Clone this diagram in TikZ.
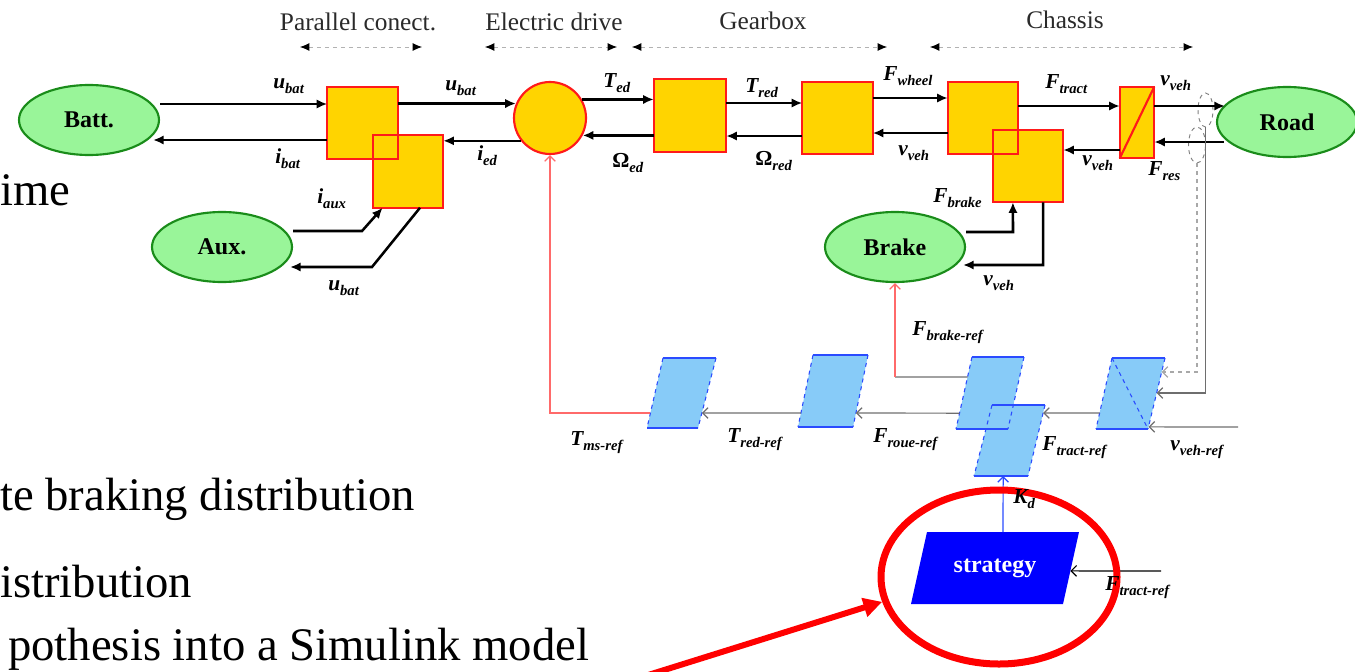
\documentclass[tikz,border=0pt]{standalone}
\usepackage{fontspec}
\setmainfont{Liberation Serif}
\usetikzlibrary{arrows.meta,calc,shapes.geometric}
\definecolor{boxfill}{HTML}{FFD400}
\definecolor{boxline}{HTML}{FF1A1A}
\definecolor{ovfill}{HTML}{99F599}
\definecolor{ovline}{HTML}{1A8C1A}
\definecolor{pfill}{HTML}{87CBF8}
\definecolor{pline}{HTML}{2A4BFF}
\definecolor{sblue}{HTML}{0000FF}
\definecolor{refgray}{HTML}{6E6E6E}
\definecolor{hdrgray}{HTML}{2A2A2A}
\definecolor{pinkred}{HTML}{FF6A6A}
\newcommand{\lab}[2]{{\fontsize{16}{16}\selectfont\bfseries\itshape #1\raisebox{-4pt}{\fontsize{11}{11}\selectfont #2}}}
\newcommand{\olab}[1]{{\fontsize{16}{16}\selectfont\bfseries Ω\raisebox{-4pt}{\fontsize{11}{11}\selectfont\itshape #1}}}
\newcommand{\parafill}[1]{\fill[pfill] (#1tl)--(#1tr)--(#1br)--(#1bl)--cycle;}
\newcommand{\paraline}[1]{\draw[pline,line width=0.8pt] (#1tl)--(#1tr) (#1bl)--(#1br);
  \draw[pline,line width=0.8pt,dashed] (#1tl)--(#1bl) (#1tr)--(#1br);}
\begin{document}
\begin{tikzpicture}[x=0.75pt,y=-0.75pt,
  blk/.style={line width=1.9pt,-{Latex[length=8pt,width=7pt]}},
  reflink/.style={refgray,line width=0.9pt,-{Straight Barb[length=4pt,width=8pt]}},
  yel/.style={rectangle,fill=boxfill,inner sep=0pt,minimum width=52.5pt,minimum height=54pt},
  yelline/.style={draw=boxline,line width=1.6pt},
  oval/.style={ellipse,draw=ovline,fill=ovfill,line width=1.6pt,inner sep=0pt,
    minimum width=105pt,minimum height=52.5pt,font=\fontsize{18}{18}\selectfont\bfseries},
  lbl/.style={anchor=base west,inner sep=0pt},
  hdr/.style={anchor=base,inner sep=0pt,font=\fontsize{19}{19}\selectfont,text=hdrgray},
  spanarrow/.style={draw=gray!60,dashed,line width=0.7pt,
    {Latex[length=7pt,width=6pt,color=black]}-{Latex[length=7pt,width=6pt,color=black]}},
  slide/.style={anchor=base west,inner sep=0pt,font=\fontsize{35}{35}\selectfont}]
\useasboundingbox (0,0) rectangle (1355,671);
\clip (0,0) rectangle (1355,671);

% background slide text
\node[slide] (s1) at (0,205) {ime};
\node[slide] (s2) at (0,510) {te braking distribution};
\node[slide] (s3) at (0,597) {istribution};
\node[slide] (s4) at (8,660) {pothesis into a Simulink model};

% headers
\node[hdr] (hpc) at (358,31) {Parallel conect.};
\node[hdr] (hed) at (554,30) {Electric drive};
\node[hdr] (hgb) at (763,29) {Gearbox};
\node[hdr] (hch) at (1065,28) {Chassis};
\coordinate (a1) at (300,47); \coordinate (a2) at (422,47);
\coordinate (b1) at (485,47); \coordinate (b2) at (617,47);
\coordinate (c1) at (632,47); \coordinate (c2) at (887,47);
\coordinate (d1) at (930,47); \coordinate (d2) at (1193,47);
\draw[spanarrow] (a1) -- (a2);
\draw[spanarrow] (b1) -- (b2);
\draw[spanarrow] (c1) -- (c2);
\draw[spanarrow] (d1) -- (d2);

% ellipses
\node[oval] (batt) at (89,120) {Batt.};
\node[oval] (aux) at (222,247) {Aux.};
\node[oval] (brake) at (895,247) {Brake};
\node[oval] (road) at (1287,122) {Road};

% yellow blocks
\node[yel] (pc1) at (362.5,123) {};
\node[yel] (pc2) at (408,171.5) {};
\node[circle,fill=boxfill,draw=boxline,line width=1.6pt,minimum size=54pt,inner sep=0pt] (motor) at (550,118) {};
\node[yel,minimum width=54pt,minimum height=54.75pt] (gb1) at (690,115.5) {};
\node[yel] (gb2) at (837.5,118) {};
\node[yel] (ch1) at (983,118) {};
\node[yel] (ch2) at (1028,166) {};
\node[yel,minimum width=25.5pt,minimum height=53.25pt] (ft) at (1137,122.5) {};
\foreach \b in {pc1,pc2,gb1,gb2,ch1,ch2,ft}{\draw[yelline] (\b.south west) rectangle (\b.north east);}
\draw[boxline,line width=1.6pt] (ft.south west) -- (ft.north east);

% small dashed ovals
\node[ellipse,draw=gray,dashed,line width=0.7pt,inner sep=0pt,minimum width=11.25pt,minimum height=25.5pt] (ov1) at (1205.5,110) {};
\node[ellipse,draw=gray,dashed,line width=0.7pt,inner sep=0pt,minimum width=12.75pt,minimum height=27pt] (ov2) at (1197,145) {};

% thick black connectors
\draw[blk] (batt.east |- 0,104) -- (pc1.west |- 0,104);
\draw[blk] (pc1.west |- 0,140) -- ($(batt.east |- 0,140)+(-7,0)$);
\draw[blk] (aux.east |- 0,231) -- (362,231) -- ($(pc2.south west)!0.14!(pc2.south east)$);
\draw[blk] ($(pc2.south west)!0.67!(pc2.south east)$) -- (372,267) -- ($(aux.east |- 0,267)+(-3,0)$);
\draw[blk] (pc1.east |- motor.157) -- (motor.157);
\draw[blk] (motor.218) -- (pc2.east |- motor.218);
\draw[blk] (motor.30) -- (gb1.west |- motor.30);
\draw[blk] (gb1.west |- motor.-28) -- (motor.-28);
\draw[blk] (gb1.east |- 0,103) -- (gb2.west |- 0,103);
\draw[blk] (gb2.west |- 0,136) -- (gb1.east |- 0,136);
\draw[blk] (gb2.east |- 0,98) -- (ch1.west |- 0,98);
\draw[blk] (ch1.west |- 0,133) -- (gb2.east |- 0,133);
\draw[blk] (ch1.east |- 0,106) -- (ft.west |- 0,106);
\draw[blk] (ft.west |- 0,150) -- (ch2.east |- 0,150);
\draw[blk] (ft.east |- 0,106) -- ($(road.west |- 0,106)+(9,0)$);
\draw[blk] ($(road.west |- 0,142)+(8,0)$) -- (ft.east |- 0,142);
\draw[blk] (brake.east |- 0,232) -- (1013,232) -- ($(ch2.south west)!0.286!(ch2.south east)$);
\draw[blk] ($(ch2.south west)!0.714!(ch2.south east)$) -- (1043,265) -- ($(brake.east |- 0,265)+(-3,0)$);

% labels top
\node[lbl] (l1) at (273,88) {\lab{u}{bat}};
\node[lbl] (l2) at (275,163) {\lab{i}{bat}};
\node[lbl] (l3) at (317,203) {\lab{i}{aux}};
\node[lbl] (l4) at (328,290) {\lab{u}{bat}};
\node[lbl] (l5) at (445,90) {\lab{u}{bat}};
\node[lbl] (l6) at (477,160) {\lab{i}{ed}};
\node[lbl] (l7) at (603,87) {\lab{T}{ed}};
\node[lbl] (l8) at (612,167) {\olab{ed}};
\node[lbl] (l9) at (745,92) {\lab{T}{red}};
\node[lbl] (l10) at (755,165) {\olab{red}};
\node[lbl] (l11) at (883,80) {\lab{F}{wheel}};
\node[lbl] (l12) at (898,155) {\lab{v}{veh}};
\node[lbl] (l13) at (1045,88) {\lab{F}{tract}};
\node[lbl] (l14) at (1082,165) {\lab{v}{veh}};
\node[lbl] (l15) at (1160,85) {\lab{v}{veh}};
\node[lbl] (l16) at (1148,175) {\lab{F}{res}};
\node[lbl] (l17) at (933,202) {\lab{F}{brake}};
\node[lbl] (l18) at (983,285) {\lab{v}{veh}};

% parallelograms
\coordinate (P1tl) at (663,358); \coordinate (P1tr) at (716,358); \coordinate (P1br) at (698,428); \coordinate (P1bl) at (647,428);
\coordinate (P2tl) at (813,355); \coordinate (P2tr) at (868,355); \coordinate (P2br) at (853,427); \coordinate (P2bl) at (798,427);
\coordinate (P3tl) at (972,357); \coordinate (P3tr) at (1024,357); \coordinate (P3br) at (1008,429); \coordinate (P3bl) at (956,429);
\coordinate (P4tl) at (992,405); \coordinate (P4tr) at (1045,405); \coordinate (P4br) at (1028,476); \coordinate (P4bl) at (974,476);
\coordinate (P5tl) at (1112,358); \coordinate (P5tr) at (1165,358); \coordinate (P5br) at (1148,429); \coordinate (P5bl) at (1096,429);
\coordinate (Stl) at (927,532); \coordinate (Str) at (1079,532); \coordinate (Sbr) at (1063,604); \coordinate (Sbl) at (911,604);
\parafill{P1}\parafill{P2}\parafill{P3}\parafill{P4}\parafill{P5}
\paraline{P1}\paraline{P2}\paraline{P3}\paraline{P4}\paraline{P5}
\draw[pline,line width=0.8pt,dashed] (P5tl) -- (P5br);
\fill[sblue] (Stl)--(Str)--(Sbr)--(Sbl)--cycle;
\node[text=white,font=\fontsize{18}{18}\selectfont\bfseries,inner sep=0pt] (strat) at (995,568) {strategy};

% reference connectors
\draw[reflink] ($(P5tl)!0.775!(P5bl)$) -- ($(P4tr)!0.113!(P4br)$);
\draw[reflink] ($(P3tl)!0.78!(P3bl)$) -- ($(P2tr)!0.806!(P2br)$);
\draw[reflink] ($(P2tl)!0.806!(P2bl)$) -- ($(P1tr)!0.786!(P1br)$);
\draw[reflink,pinkred] ($(P1tl)!0.786!(P1bl)$) -| (motor.south);
\draw[refgray,line width=0.9pt] ($(P3tl)!0.278!(P3bl)$) -- (brake.south |- 0,377);
\draw[reflink,pinkred] (brake.south |- 0,377) -- (brake.south);
\draw[reflink,dashed,refgray!60] (ov2.south) |- ($(P5tr)!0.197!(P5br)$);
\draw[reflink] (ov1.south) |- ($(P5tr)!0.493!(P5br)$);
\coordinate (vin) at (1238,427);
\draw[reflink] (vin) -- ($(P5tr)!0.97!(P5br)$);
\draw[reflink,pline] ($(Stl)!0.5!(Str)$) -- ($(P4bl)!0.54!(P4br)$);
\coordinate (fin) at (1161,571);
\draw[reflink,black] (fin) -- ($(Str)!0.54!(Sbr)$);

% highlight
\node[ellipse,draw=red,line width=5.25pt,inner sep=0pt,minimum width=177pt,minimum height=130.5pt] (bigell) at (999,577) {};
\coordinate (rin) at (645,676);
\draw[red,line width=4.5pt,-{Triangle[length=14pt,width=14pt]}] (rin) -- (bigell.192);

% labels bottom
\node[lbl] (m1) at (912,335) {\lab{F}{brake-ref}};
\node[lbl] (m2) at (570,445) {\lab{T}{ms-ref}};
\node[lbl] (m3) at (727,442) {\lab{T}{red-ref}};
\node[lbl] (m4) at (873,442) {\lab{F}{roue-ref}};
\node[lbl] (m5) at (1042,450) {\lab{F}{tract-ref}};
\node[lbl] (m6) at (1170,450) {\lab{v}{veh-ref}};
\node[lbl] (m7) at (1013,503) {\lab{K}{d}};
\node[lbl] (m8) at (1105,590) {\lab{F}{tract-ref}};
\end{tikzpicture}
\end{document}
